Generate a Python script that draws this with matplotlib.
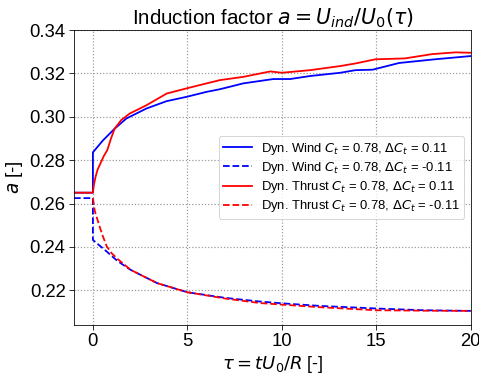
import numpy as np
import matplotlib
matplotlib.use('Agg')
import matplotlib.pyplot as plt

plt.rcParams['font.family'] = ['Liberation Sans', 'DejaVu Sans']
plt.rcParams['mathtext.fontset'] = 'dejavusans'

tau_wind_up = [-1, 0, 0, 0.53, 1.15, 1.77, 2.83, 3.9, 4.96, 6.02, 6.72, 7.96,
               9.55, 10.44, 11.5, 13.1, 13.9, 14.8, 16.2, 18.1, 20]
a_wind_up = [0.265, 0.265, 0.2836, 0.2891, 0.2945, 0.2992, 0.3038, 0.3072,
             0.3092, 0.3115, 0.3127, 0.3154, 0.3174, 0.3174, 0.3188, 0.3203,
             0.3215, 0.3217, 0.3248, 0.3265, 0.328]

tau_wind_down = [-1, 0, 0, 0.74, 1.3, 2.0, 3.4, 5, 7, 8.85, 10, 12, 15, 17.5, 20]
a_wind_down = [0.2625, 0.2625, 0.2432, 0.2378, 0.2335, 0.2294, 0.2233, 0.2191,
               0.2165, 0.2148, 0.2140, 0.2128, 0.2116, 0.2108, 0.2105]

tau_thrust_up = [-1, 0, 0.05, 0.14, 0.25, 0.4, 0.57, 0.76, 0.95, 1.15, 1.5,
                 1.95, 2.83, 3.9, 4.96, 6.02, 6.72, 7.96, 9.38, 10, 11.5, 13.1,
                 13.9, 14.95, 16.5, 17.96, 19.2, 20]
a_thrust_up = [0.265, 0.265, 0.2685, 0.2723, 0.2757, 0.2785, 0.2818, 0.2846,
               0.2898, 0.2945, 0.2985, 0.3015, 0.3053, 0.3107, 0.3131, 0.3154,
               0.3169, 0.3184, 0.3209, 0.3203, 0.3215, 0.3234, 0.3246, 0.3265,
               0.3269, 0.3289, 0.3297, 0.3295]

tau_thrust_down = [0, 0.1, 0.3, 0.5, 0.74, 1.0, 1.3, 2.0, 3.4, 5, 7, 8.85, 10,
                   12, 15, 17.5, 20]
a_thrust_down = [0.2625, 0.2565, 0.2509, 0.2455, 0.2401, 0.2370, 0.2345,
                 0.2294, 0.2233, 0.2191, 0.2162, 0.2141, 0.2134, 0.2122,
                 0.2108, 0.2106, 0.2105]

lab_up = r'$C_t$ = 0.78, $\Delta C_t$ = 0.11'
lab_down = r'$C_t$ = 0.78, $\Delta C_t$ = -0.11'

fig = plt.figure(figsize=(479/72, 379/72), dpi=72)
ax = fig.add_axes([0.1545, 0.1425, 0.8285, 0.7783])

ax.plot(tau_wind_up, a_wind_up, 'b-', lw=1.8, label='Dyn. Wind ' + lab_up)
ax.plot(tau_wind_down, a_wind_down, 'b--', lw=1.8, label='Dyn. Wind ' + lab_down)
ax.plot(tau_thrust_up, a_thrust_up, 'r-', lw=1.8, label='Dyn. Thrust ' + lab_up)
ax.plot(tau_thrust_down, a_thrust_down, 'r--', lw=1.8, label='Dyn. Thrust ' + lab_down)

ax.set_xlim([-1, 20])
ax.set_ylim([0.204, 0.34])
ax.set_xticks([0, 5, 10, 15, 20])
ax.set_yticks([0.22, 0.24, 0.26, 0.28, 0.30, 0.32, 0.34])
ax.tick_params(labelsize=18.5, length=5)
ax.grid(True, ls=':', color='#999999', lw=1.2)

ax.set_xlabel(r'$\tau = tU_0/R$ [-]', fontsize=18)
ax.set_ylabel(r'$a$ [-]', fontsize=18.5)
ax.set_title(r'Induction factor $a = U_{ind}/U_0(\tau)$', fontsize=20.5)
ax.legend(loc='center right', fontsize=13, labelspacing=0.25,
          handlelength=2.2, handletextpad=0.7, borderpad=0.35)

fig.savefig('out.png', dpi=72)
